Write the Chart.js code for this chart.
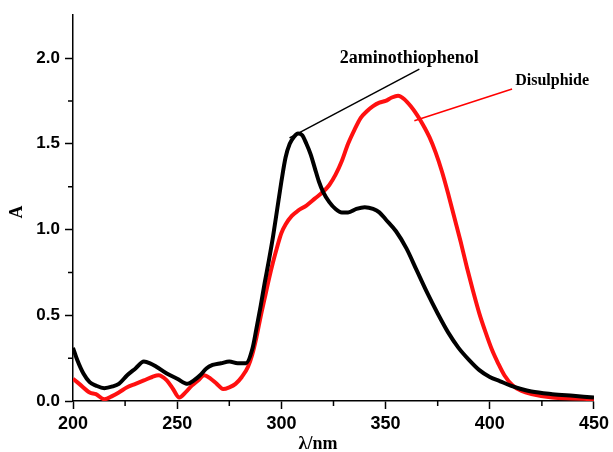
<!DOCTYPE html>
<html>
<head>
<meta charset="utf-8">
<script src="https://cdn.jsdelivr.net/npm/chart.js@4.4.0/dist/chart.umd.min.js"></script>
<style>
  html, body { margin: 0; padding: 0; background: #fff; }
  #wrap { width: 613px; height: 452px; }
</style>
</head>
<body>
<div id="wrap"><canvas id="spectrum" width="613" height="452"></canvas></div>
<script>
// 2-aminothiophenol absorbance
const amtpNm  = [200, 202, 205, 208, 211, 215, 219, 222, 226, 230, 234, 237, 240, 245, 250, 255, 258, 261, 264, 267, 271, 275, 279, 283, 286, 288, 290, 292, 294, 296, 298, 300, 302, 304, 306, 308, 310, 312, 314, 316, 318, 320, 323, 326, 329, 332, 336, 340, 344, 347, 350, 355, 360, 365, 370, 375, 380, 385, 390, 395, 400, 405, 410, 415, 420, 430, 440, 450];
const amtpAbs = [0.31, 0.24, 0.16, 0.11, 0.09, 0.075, 0.085, 0.10, 0.15, 0.19, 0.23, 0.22, 0.20, 0.16, 0.13, 0.10, 0.12, 0.15, 0.19, 0.21, 0.22, 0.23, 0.22, 0.22, 0.30, 0.42, 0.55, 0.69, 0.82, 0.96, 1.12, 1.28, 1.42, 1.50, 1.54, 1.56, 1.55, 1.50, 1.44, 1.36, 1.28, 1.22, 1.16, 1.12, 1.10, 1.10, 1.12, 1.13, 1.12, 1.10, 1.06, 0.99, 0.89, 0.76, 0.63, 0.51, 0.40, 0.31, 0.24, 0.18, 0.14, 0.115, 0.09, 0.07, 0.055, 0.04, 0.03, 0.02];

// disulphide absorbance
const disNm  = [200, 203, 208, 211, 215, 219, 222, 226, 230, 234, 238, 241, 245, 248, 251, 254, 257, 260, 263, 266, 269, 272, 275, 278, 281, 284, 286, 288, 290, 292, 294, 296, 298, 300, 302, 305, 308, 312, 316, 320, 323, 326, 329, 332, 335, 338, 341, 344, 347, 350, 353, 356, 359, 362, 365, 368, 371, 374, 377, 380, 383, 386, 389, 392, 395, 398, 401, 404, 407, 411, 415, 420, 430, 440, 450];
const disAbs = [0.13, 0.10, 0.05, 0.04, 0.01, 0.03, 0.05, 0.08, 0.10, 0.12, 0.14, 0.15, 0.12, 0.07, 0.02, 0.05, 0.09, 0.12, 0.15, 0.13, 0.10, 0.07, 0.08, 0.10, 0.14, 0.20, 0.27, 0.37, 0.49, 0.60, 0.71, 0.81, 0.90, 0.98, 1.03, 1.08, 1.11, 1.14, 1.18, 1.22, 1.26, 1.32, 1.40, 1.50, 1.58, 1.65, 1.69, 1.72, 1.74, 1.75, 1.77, 1.78, 1.76, 1.72, 1.67, 1.61, 1.54, 1.45, 1.34, 1.21, 1.07, 0.93, 0.78, 0.64, 0.51, 0.40, 0.30, 0.22, 0.15, 0.09, 0.06, 0.04, 0.02, 0.015, 0.01];

// axis ticks
const xMajorTicks = [200, 250, 300, 350, 400, 450];
const xMinorTicks = [225, 275, 325, 375, 425];
const yMajorTicks = [0, 0.5, 1.0, 1.5, 2.0];
const yMinorTicks = [0.25, 0.75, 1.25, 1.75];

// callout labels: text, anchor point of the leader line, far end of the line
const calloutText  = ['2aminothiophenol', 'Disulphide'];
const calloutNear  = [[303.9, 1.535], [363.8, 1.634]];
const calloutFar   = [[366.2, 1.936], [410.7, 1.82]];
const calloutColor = ['#000000', '#ff0000'];

const toPoints = (xs, ys) => xs.map((x, i) => ({ x: x, y: ys[i] }));

const spectrumSets = [
  { data: toPoints(amtpNm, amtpAbs), borderColor: '#000000', borderWidth: 4, cubicInterpolationMode: 'monotone' },
  { data: toPoints(disNm, disAbs), borderColor: '#ff1010', borderWidth: 4, cubicInterpolationMode: 'monotone' }
];
const leaderSets = calloutText.map((t, i) => ({
  data: [ { x: calloutNear[i][0], y: calloutNear[i][1] }, { x: calloutFar[i][0], y: calloutFar[i][1] } ],
  borderColor: calloutColor[i], borderWidth: 1.5, tension: 0
}));

// minor ticks, axis titles and callout text
const extras = {
  id: 'extras',
  afterDraw(chart) {
    const { ctx, scales: { x, y } } = chart;
    ctx.save();
    ctx.strokeStyle = '#000';
    ctx.lineWidth = 1.5;
    ctx.beginPath();
    xMinorTicks.forEach(v => {
      const px = x.getPixelForValue(v);
      ctx.moveTo(px, y.bottom);
      ctx.lineTo(px, y.bottom + 5);
    });
    yMinorTicks.forEach(v => {
      const py = y.getPixelForValue(v);
      ctx.moveTo(x.left, py);
      ctx.lineTo(x.left - 5, py);
    });
    ctx.stroke();

    ctx.fillStyle = '#000';
    ctx.textBaseline = 'middle';
    ctx.textAlign = 'center';
    ctx.font = 'bold 18px "Liberation Serif", "Times New Roman", serif';
    ctx.fillText('λ/nm', 318, 444);
    ctx.save();
    ctx.translate(17, 212);
    ctx.rotate(-Math.PI / 2);
    ctx.fillText('A', 0, 0);
    ctx.restore();

    ctx.font = 'bold 18px "Liberation Serif", "Times New Roman", serif';
    ctx.textAlign = 'center';
    ctx.fillText(calloutText[0], x.getPixelForValue(361.4), y.getPixelForValue(2.0));
    ctx.font = 'bold 16px "Liberation Serif", "Times New Roman", serif';
    ctx.textAlign = 'left';
    ctx.fillText(calloutText[1], x.getPixelForValue(412.2), y.getPixelForValue(1.866));
    ctx.restore();
  }
};

new Chart(document.getElementById('spectrum'), {
  type: 'line',
  data: { datasets: [...spectrumSets, ...leaderSets] },
  options: {
    responsive: false,
    animation: false,
    devicePixelRatio: 1,
    layout: { padding: { top: 14, right: 18, left: 0, bottom: 0 } },
    elements: { point: { radius: 0 } },
    plugins: { legend: { display: false }, tooltip: { enabled: false } },
    scales: {
      x: {
        type: 'linear',
        min: 200,
        max: 450,
        afterFit: s => { s.height = 51; },
        afterBuildTicks: s => { s.ticks = xMajorTicks.map(v => ({ value: v })); },
        border: { display: true, color: '#000', width: 1.5 },
        grid: { drawOnChartArea: false, drawTicks: true, tickLength: 8, color: '#000', tickWidth: 1.5 },
        ticks: { color: '#000', padding: 4, font: { family: '"Liberation Sans", Arial, sans-serif', weight: 'bold', size: 18 } }
      },
      y: {
        type: 'linear',
        min: 0,
        max: 2.25,
        afterFit: s => { s.width = 73; },
        afterBuildTicks: s => { s.ticks = yMajorTicks.map(v => ({ value: v })); },
        border: { display: true, color: '#000', width: 1.5 },
        grid: { drawOnChartArea: false, drawTicks: true, tickLength: 8, color: '#000', tickWidth: 1.5 },
        ticks: {
          color: '#000', padding: 5,
          font: { family: '"Liberation Sans", Arial, sans-serif', weight: 'bold', size: 17 },
          callback: v => v.toFixed(1)
        }
      }
    }
  },
  plugins: [extras]
});
</script>
</body>
</html>
